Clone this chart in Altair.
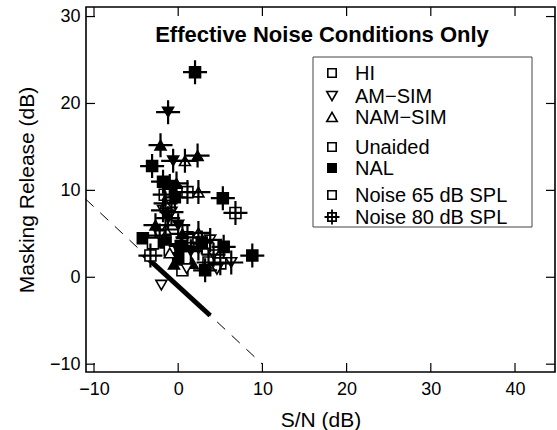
import altair as alt
import pandas as pd

# ---- data ----
sn = [2.0, -1.2, -2.1, -3.1, -0.6, 0.8, 2.3, 5.3, 6.8, 8.8,
      6.3, -1.8, -1.0, -0.4, -1.6, 1.1, 2.4, -0.2, -1.8, -1.2,
      -0.8, -2.7, -1.5, -4.2, -3.0, -1.5, -1.0, 0.0, 0.5, -2.0,
      -3.3, 1.7, 2.4, 1.1, 3.8, 5.4, 3.6, 5.0, 3.2, 2.4,
      -0.1, -1.0, 0.5, 1.5, 4.2, 2.8, -2.2, 0.0, -0.5, 1.0,
      4.6, -1.5, 0.3]
mr = [23.6, 19.0, 15.2, 12.8, 13.4, 13.4, 14.0, 9.1, 7.4, 2.5,
      1.7, 11.0, 10.5, 9.2, 9.5, 9.8, 9.8, 10.8, 7.7, 6.8,
      7.5, 6.0, 5.5, 4.5, 3.9, 4.0, 3.1, 2.2, 0.8, -0.9,
      2.5, 1.6, 5.1, 4.6, 4.3, 3.5, 1.7, 1.6, 0.8, 3.3,
      3.3, 2.8, 5.0, 3.0, 2.6, 4.0, 4.8, 6.0, 1.5, 1.0,
      0.9, 8.5, 3.6]
group = ["HI", "AM-SIM", "NAM-SIM", "HI", "AM-SIM", "NAM-SIM", "NAM-SIM", "HI", "HI", "HI",
         "AM-SIM", "HI", "HI", "HI", "HI", "HI", "NAM-SIM", "NAM-SIM", "AM-SIM", "AM-SIM",
         "AM-SIM", "NAM-SIM", "NAM-SIM", "HI", "HI", "HI", "HI", "HI", "HI", "AM-SIM",
         "HI", "NAM-SIM", "NAM-SIM", "HI", "AM-SIM", "HI", "HI", "HI", "HI", "AM-SIM",
         "AM-SIM", "NAM-SIM", "NAM-SIM", "AM-SIM", "AM-SIM", "HI", "AM-SIM", "AM-SIM", "NAM-SIM", "AM-SIM",
         "AM-SIM", "NAM-SIM", "HI"]
aid = ["NAL", "NAL", "NAL", "NAL", "NAL", "Unaided", "NAL", "NAL", "Unaided", "NAL",
       "Unaided", "NAL", "NAL", "NAL", "Unaided", "Unaided", "Unaided", "NAL", "Unaided", "NAL",
       "Unaided", "NAL", "Unaided", "NAL", "Unaided", "NAL", "Unaided", "NAL", "Unaided", "Unaided",
       "Unaided", "NAL", "Unaided", "Unaided", "Unaided", "NAL", "Unaided", "Unaided", "NAL", "Unaided",
       "NAL", "Unaided", "NAL", "NAL", "Unaided", "NAL", "Unaided", "NAL", "NAL", "Unaided",
       "Unaided", "Unaided", "NAL"]
noise = [80, 80, 80, 80, 80, 80, 80, 80, 80, 80,
         80, 80, 80, 80, 80, 80, 80, 80, 80, 80,
         80, 80, 80, 65, 65, 65, 65, 65, 65, 65,
         80, 65, 80, 80, 80, 80, 80, 80, 80, 80,
         65, 65, 80, 80, 80, 80, 80, 80, 65, 65,
         65, 80, 80]

line_sn = [-11.0, 10.0]
line_mr = [9.0, -10.0]
thick_sn = [-4.1, 3.8]
thick_mr = [2.6, -4.4]

x_ticks = [-10, 0, 10, 20, 30, 40]
y_ticks = [-10, 0, 10, 20, 30]

title_text = "Effective Noise Conditions Only"
legend_labels = ["HI", "AM\u2212SIM", "NAM\u2212SIM", "Unaided", "NAL",
                 "Noise 65 dB SPL", "Noise 80 dB SPL"]

# ---- layout ----
W, H = 469, 365
FONT = "Liberation Sans"
CROSS = "M-1,0H1M0,-1V1"
SQ_CROSS = "M-0.55,-0.55H0.55V0.55H-0.55Z M-1,0H1 M0,-1V1"

df = pd.DataFrame({"sn": sn, "mr": mr, "group": group, "aid": aid, "noise": noise})
df80 = df[df["noise"] == 80]

xs = alt.Scale(domain=[-10.95, 44.75], nice=False, zero=False)
ys = alt.Scale(domain=[-10.9, 31.1], nice=False, zero=False)
ax_x = alt.Axis(values=x_ticks, domain=False, ticks=False, grid=False,
                labelFont=FONT, labelFontSize=18, labelColor="black", labelPadding=8,
                title="S/N (dB)", titleFont=FONT, titleFontSize=21, titleFontWeight="normal",
                titleColor="black", titleY=48, titleBaseline="middle")
ax_y = alt.Axis(values=y_ticks, domain=False, ticks=False, grid=False,
                labelFont=FONT, labelFontSize=18, labelColor="black", labelPadding=6,
                title="Masking Release (dB)", titleFont=FONT, titleFontSize=21,
                titleFontWeight="normal", titleColor="black", titleX=-59, titleBaseline="middle")

X = lambda f: alt.X(f, type="quantitative", scale=xs, axis=ax_x)
Y = lambda f: alt.Y(f, type="quantitative", scale=ys, axis=ax_y)

dash = alt.Chart(pd.DataFrame({"sn": line_sn, "mr": line_mr})).mark_line(
    color="black", strokeWidth=1, strokeDash=[11, 9]).encode(x=X("sn"), y=Y("mr"))
thick = alt.Chart(pd.DataFrame({"sn": thick_sn, "mr": thick_mr})).mark_line(
    color="black", strokeWidth=5).encode(x=X("sn"), y=Y("mr"))

pts = alt.Chart(df).mark_point(filled=True, stroke="black", strokeWidth=1.6, opacity=1, size=120).encode(
    x=X("sn"), y=Y("mr"),
    shape=alt.Shape("group:N", scale=alt.Scale(domain=["HI", "AM-SIM", "NAM-SIM"],
                                               range=["square", "triangle-down", "triangle-up"]), legend=None),
    fill=alt.Fill("aid:N", scale=alt.Scale(domain=["Unaided", "NAL"], range=["white", "black"]), legend=None),
)
crosses = alt.Chart(df80).mark_point(shape=CROSS, filled=False, stroke="black", strokeWidth=2.2,
                                     opacity=1, size=576).encode(x=X("sn"), y=Y("mr"))

tdf_x = pd.DataFrame({"t": x_ticks})
tdf_y = pd.DataFrame({"t": y_ticks})
tick_layers = [
    alt.Chart(tdf_x).mark_rule(color="black", strokeWidth=1.2).encode(x=X("t"), y=alt.value(H), y2=alt.value(H - 9)),
    alt.Chart(tdf_x).mark_rule(color="black", strokeWidth=1.2).encode(x=X("t"), y=alt.value(0), y2=alt.value(9)),
    alt.Chart(tdf_y).mark_rule(color="black", strokeWidth=1.2).encode(y=Y("t"), x=alt.value(0), x2=alt.value(9)),
    alt.Chart(tdf_y).mark_rule(color="black", strokeWidth=1.2).encode(y=Y("t"), x=alt.value(W), x2=alt.value(W - 9)),
]

one = pd.DataFrame({"k": [0]})
title = alt.Chart(one).mark_text(text=title_text, font=FONT, fontSize=22, fontWeight="bold",
                                 align="center", baseline="middle", color="black").encode(
    x=alt.value(236), y=alt.value(28))

box = alt.Chart(one).mark_rect(fill="white", stroke="#444", strokeWidth=1).encode(
    x=alt.value(227), x2=alt.value(446), y=alt.value(50), y2=alt.value(220))

row_y = [66, 89, 110, 140, 161, 188, 210]
sym_shape = ["square", "triangle-down", "triangle-up", "square", "square", "square", SQ_CROSS]
sym_fill = ["white", "white", "white", "white", "black", "white", "white"]
sym_size = [70, 110, 110, 70, 70, 70, 225]
leg_layers = []
for lab, yy, shp, fl, sz in zip(legend_labels, row_y, sym_shape, sym_fill, sym_size):
    if shp == SQ_CROSS:
        leg_layers.append(alt.Chart(one).mark_point(shape=shp, filled=False, stroke="black",
                                                    strokeWidth=1.8, size=sz, opacity=1).encode(
            x=alt.value(246), y=alt.value(yy)))
    else:
        leg_layers.append(alt.Chart(one).mark_point(shape=shp, filled=True, fill=fl, stroke="black",
                                                    strokeWidth=1.6, size=sz, opacity=1).encode(
            x=alt.value(246), y=alt.value(yy)))
    leg_layers.append(alt.Chart(one).mark_text(text=lab, font=FONT, fontSize=20, align="left",
                                               baseline="middle", color="black").encode(
        x=alt.value(269), y=alt.value(yy + 1)))

chart = alt.layer(dash, thick, pts, crosses, *tick_layers, title, box, *leg_layers).properties(
    width=W, height=H, autosize="none",
    padding={"left": 86, "top": 7, "right": 2, "bottom": 58},
    background="white",
).configure_view(stroke="black", strokeWidth=1.6)

chart.save("out.html", embed_options={"renderer": "svg", "actions": False})
